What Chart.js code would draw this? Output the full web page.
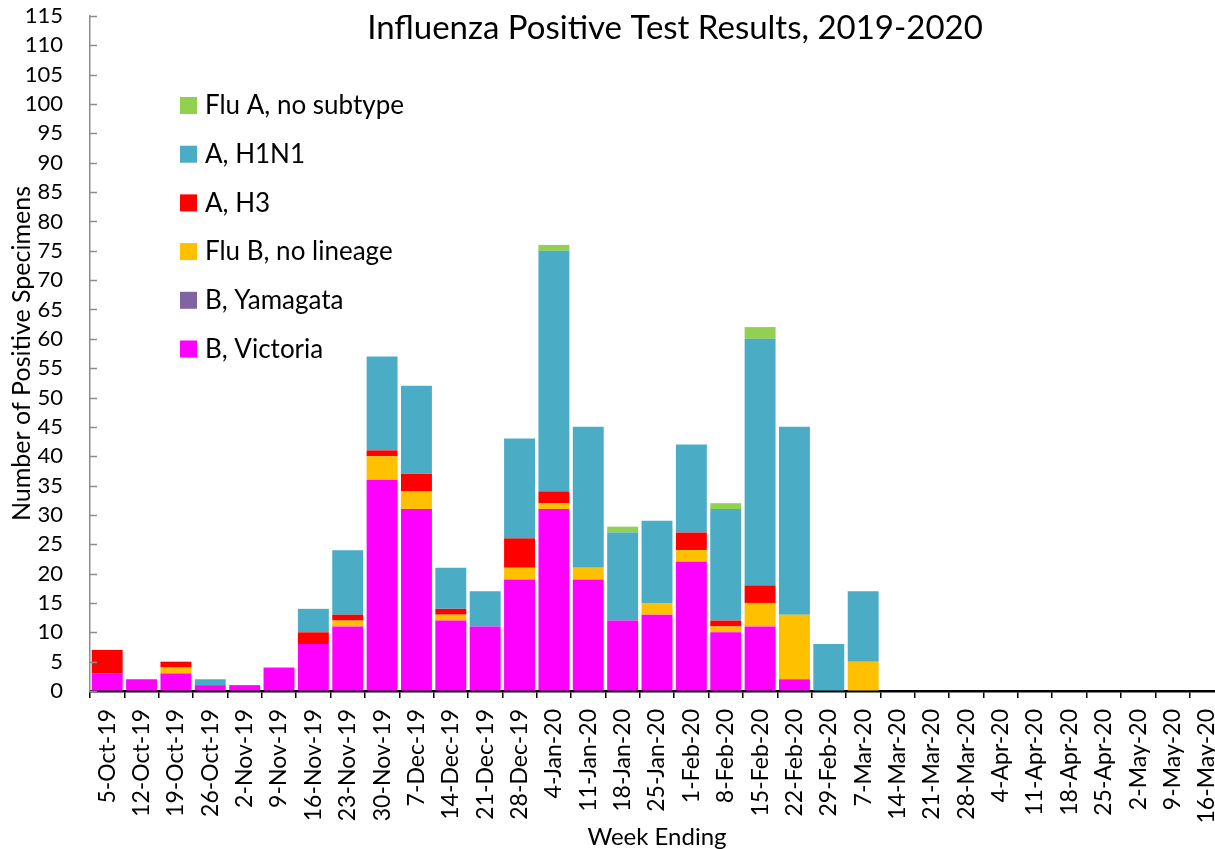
<!DOCTYPE html>
<html lang="en">
<head>
  <meta charset="UTF-8" />
  <title>Influenza Positive Test Results, 2019-2020</title>
  <script src="https://cdn.jsdelivr.net/npm/chart.js"></script>
  <style>
    html, body {
      margin: 0;
      padding: 0;
      background: #fff;
      overflow: hidden;
    }
    #wrap {
      width: 1230px;
      height: 849px;
    }
  </style>
</head>
<body>
  <div id="wrap"><canvas id="fluChart" width="1230" height="849"></canvas></div>

  <script>
    // Week ending dates (x categories)
    const weeks = [
      '5-Oct-19', '12-Oct-19', '19-Oct-19', '26-Oct-19',
      '2-Nov-19', '9-Nov-19', '16-Nov-19', '23-Nov-19', '30-Nov-19',
      '7-Dec-19', '14-Dec-19', '21-Dec-19', '28-Dec-19',
      '4-Jan-20', '11-Jan-20', '18-Jan-20', '25-Jan-20',
      '1-Feb-20', '8-Feb-20', '15-Feb-20', '22-Feb-20', '29-Feb-20',
      '7-Mar-20', '14-Mar-20', '21-Mar-20', '28-Mar-20',
      '4-Apr-20', '11-Apr-20', '18-Apr-20', '25-Apr-20',
      '2-May-20', '9-May-20', '16-May-20'
    ];

    // Positive specimens per week, one array per type (stack order bottom -> top)
    const bVictoria     = [3, 2, 3, 1, 1, 4, 8, 11, 36, 31, 12, 11, 19, 31, 19, 12, 13, 22, 10, 11, 2, 0, 0, 0, 0, 0, 0, 0, 0, 0, 0, 0, 0];
    const bYamagata     = [0, 0, 0, 0, 0, 0, 0, 0, 0, 0, 0, 0, 0, 0, 0, 0, 0, 0, 0, 0, 0, 0, 0, 0, 0, 0, 0, 0, 0, 0, 0, 0, 0];
    const fluBNoLineage = [0, 0, 1, 0, 0, 0, 0, 1, 4, 3, 1, 0, 2, 1, 2, 0, 2, 2, 1, 4, 11, 0, 5, 0, 0, 0, 0, 0, 0, 0, 0, 0, 0];
    const aH3           = [4, 0, 1, 0, 0, 0, 2, 1, 1, 3, 1, 0, 5, 2, 0, 0, 0, 3, 1, 3, 0, 0, 0, 0, 0, 0, 0, 0, 0, 0, 0, 0, 0];
    const aH1N1         = [0, 0, 0, 1, 0, 0, 4, 11, 16, 15, 7, 6, 17, 41, 24, 15, 14, 15, 19, 42, 32, 8, 12, 0, 0, 0, 0, 0, 0, 0, 0, 0, 0];
    const fluANoSubtype = [0, 0, 0, 0, 0, 0, 0, 0, 0, 0, 0, 0, 0, 1, 0, 1, 0, 0, 1, 2, 0, 0, 0, 0, 0, 0, 0, 0, 0, 0, 0, 0, 0];

    const yMax = 115;
    const yStep = 5;

    const FONT = 'Lato, Carlito, "Open Sans", sans-serif';

    // title + legend drawn inside the plot like the Excel original
    const titleAndLegend = {
      id: 'titleAndLegend',
      afterDraw(chart) {
        const ctx = chart.ctx;
        ctx.save();
        ctx.fillStyle = '#000';
        ctx.font = '33px ' + FONT;
        ctx.textAlign = 'center';
        ctx.textBaseline = 'middle';
        ctx.fillText('Influenza Positive Test Results, 2019-2020', 675, 28);

        // legend: reverse of stack order
        const items = chart.data.datasets.slice().reverse();
        ctx.font = '26px ' + FONT;
        ctx.textAlign = 'left';
        items.forEach((ds, i) => {
          const cy = 105 + i * 48.7;
          ctx.fillStyle = ds.backgroundColor;
          ctx.fillRect(180, cy - 8, 17, 17);
          ctx.fillStyle = '#000';
          ctx.fillText(ds.label, 205, cy + 1);
        });
        ctx.restore();
      }
    };

    // y tick marks point inward, into the plot
    const innerYTicks = {
      id: 'innerYTicks',
      afterDatasetsDraw(chart) {
        const y = chart.scales.y;
        const ctx = chart.ctx;
        ctx.save();
        ctx.strokeStyle = '#8c8c8c';
        ctx.lineWidth = 1.5;
        y.ticks.forEach(t => {
          const py = Math.round(y.getPixelForValue(t.value)) + 0.5;
          ctx.beginPath();
          ctx.moveTo(y.right, py);
          ctx.lineTo(y.right + 7, py);
          ctx.stroke();
        });
        ctx.restore();
      }
    };

    const ctx = document.getElementById('fluChart').getContext('2d');
    const fluChart = new Chart(ctx, {
      type: 'bar',
      data: {
        labels: weeks,
        datasets: [
          { label: 'B, Victoria', data: bVictoria, backgroundColor: '#FF00FF' },
          { label: 'B, Yamagata', data: bYamagata, backgroundColor: '#8064A2' },
          { label: 'Flu B, no lineage', data: fluBNoLineage, backgroundColor: '#FFC000' },
          { label: 'A, H3', data: aH3, backgroundColor: '#FF0000' },
          { label: 'A, H1N1', data: aH1N1, backgroundColor: '#4BACC6' },
          { label: 'Flu A, no subtype', data: fluANoSubtype, backgroundColor: '#92D050' }
        ]
      },
      options: {
        responsive: false,
        animation: false,
        devicePixelRatio: 1,
        layout: { padding: { top: 16, right: 6, left: 0, bottom: 0 } },
        datasets: {
          bar: { barPercentage: 0.9, categoryPercentage: 1, borderWidth: 0 }
        },
        scales: {
          x: {
            stacked: true,
            offset: true,
            grid: {
              offset: true,
              drawOnChartArea: false,
              tickLength: 7,
              color: '#000',
              lineWidth: 1.5
            },
            border: { color: '#000', width: 2.5 },
            ticks: {
              autoSkip: false,
              minRotation: 90,
              maxRotation: 90,
              padding: 11,
              color: '#000',
              font: { family: FONT, size: 23 }
            },
            title: {
              display: true,
              text: 'Week Ending',
              color: '#000',
              padding: 0,
              font: { family: FONT, size: 24, lineHeight: 1 }
            },
            afterFit(scale) {
              scale.height = 158;
              scale.paddingLeft = 0;
              scale.paddingRight = 0;
            }
          },
          y: {
            stacked: true,
            min: 0,
            max: yMax,
            grid: { drawOnChartArea: false, drawTicks: false },
            border: { color: '#8c8c8c', width: 1.5 },
            ticks: {
              stepSize: yStep,
              autoSkip: false,
              padding: 27,
              color: '#000',
              font: { family: FONT, size: 22, lineHeight: 1 }
            },
            title: {
              display: true,
              text: 'Number of Positive Specimens',
              color: '#000',
              padding: { top: 7, bottom: 0 },
              font: { family: FONT, size: 25 }
            },
            afterFit(scale) {
              scale.width = 90;
              scale.paddingTop = 0;
              scale.paddingBottom = 0;
            }
          }
        },
        plugins: {
          legend: { display: false },
          tooltip: { enabled: false }
        }
      },
      plugins: [innerYTicks, titleAndLegend]
    });
  </script>
</body>
</html>
